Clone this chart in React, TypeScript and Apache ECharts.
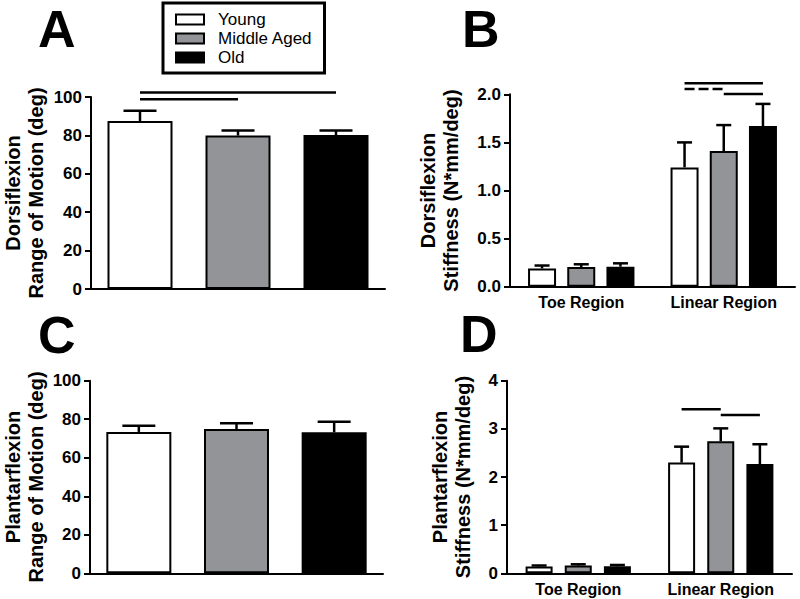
import React, { useEffect, useRef } from 'react';
import * as echarts from 'echarts';

const FONT = '"Liberation Sans", Arial, Helvetica, sans-serif';

const groups = ['Young', 'Middle Aged', 'Old'];
const groupColors = ['#ffffff', '#939497', '#000000'];
const regions = ['Toe Region', 'Linear Region'];
const panelLetters = ['A', 'B', 'C', 'D'];

// Panel A: dorsiflexion range of motion (deg)
const dorsiRomMean = [87.5, 79.9, 80.2];
const dorsiRomSem = [5.4, 2.7, 2.3];
// Panel C: plantarflexion range of motion (deg)
const plantarRomMean = [73.4, 74.9, 73.2];
const plantarRomSem = [3.2, 3.0, 5.5];

// Panel B: dorsiflexion stiffness [Toe, Linear]
const dorsiStiffYoung = [0.19, 1.24];
const dorsiStiffMiddle = [0.205, 1.41];
const dorsiStiffOld = [0.208, 1.67];
const dorsiStiffYoungSem = [0.03, 0.26];
const dorsiStiffMiddleSem = [0.028, 0.27];
const dorsiStiffOldSem = [0.035, 0.23];

// Panel D: plantarflexion stiffness [Toe, Linear]
const plantarStiffYoung = [0.14, 2.3];
const plantarStiffMiddle = [0.16, 2.74];
const plantarStiffOld = [0.145, 2.27];
const plantarStiffYoungSem = [0.022, 0.33];
const plantarStiffMiddleSem = [0.027, 0.27];
const plantarStiffOldSem = [0.028, 0.41];

// Y axis ranges
const romAxis = { min: 0, max: 100, interval: 20 };
const dorsiStiffAxis = { min: 0, max: 2, interval: 0.5 };
const plantarStiffAxis = { min: 0, max: 4, interval: 1 };

// significance bars: [fromCategory, fromGroup, toCategory, toGroup, y, dashed]
const sigA = [
  [0, 0, 1, 1, 98.8, 0],
  [0, 0, 2, 2, 102.4, 0],
];
const sigB = [
  [1, 0, 1, 2, 2.114, 0],
  [1, 0, 1, 1, 2.055, 1],
  [1, 1, 1, 2, 2.003, 0],
];
const sigD = [
  [1, 0, 1, 1, 3.406, 0],
  [1, 1, 1, 2, 3.29, 0],
];

const BAR_B = 28;
const GAP_B = 0.4;
const BAR_D = 27;
const GAP_D = 0.45;
const STEP_B = BAR_B * (1 + GAP_B);
const STEP_D = BAR_D * (1 + GAP_D);

function errorRenderer(step: number, capHalf: number) {
  return (_params: any, api: any) => {
    const c = api.value(0);
    const g = api.value(1);
    const m = api.value(2);
    const e = api.value(3);
    const p0 = api.coord([c, m]);
    const p1 = api.coord([c, m + e]);
    const x = p0[0] + (g - 1) * step;
    return {
      type: 'group',
      children: [
        { type: 'line', shape: { x1: x, y1: p0[1], x2: x, y2: p1[1] }, style: { stroke: '#000', lineWidth: 2.5 } },
        {
          type: 'line',
          shape: { x1: x - capHalf, y1: p1[1], x2: x + capHalf, y2: p1[1] },
          style: { stroke: '#000', lineWidth: 2.5 },
        },
      ],
    };
  };
}

function sigRenderer(step: number) {
  return (_params: any, api: any) => {
    const y = api.value(4);
    const a = api.coord([api.value(0), y]);
    const b = api.coord([api.value(2), y]);
    const x1 = a[0] + (api.value(1) - 1) * step;
    const x2 = b[0] + (api.value(3) - 1) * step;
    const dashed = api.value(5) === 1;
    return {
      type: 'line',
      shape: { x1, y1: a[1], x2, y2: a[1] },
      style: { stroke: '#000', lineWidth: 2.5, lineDash: dashed ? [10, 4] : null },
    };
  };
}

function yAxisOf(grid: number, range: any, name: string, nameGap: number, decimals: number) {
  return {
    type: 'value',
    gridIndex: grid,
    min: range.min,
    max: range.max,
    interval: range.interval,
    name,
    nameLocation: 'middle',
    nameRotate: 90,
    nameGap,
    nameTextStyle: { fontFamily: FONT, fontSize: 20, fontWeight: 'bold', color: '#000', lineHeight: 23 },
    axisLine: { show: true, lineStyle: { color: '#000', width: 2 } },
    axisTick: { show: true, length: 6, lineStyle: { color: '#000', width: 2 } },
    splitLine: { show: false },
    axisLabel: {
      fontFamily: FONT,
      fontSize: 17,
      fontWeight: 'bold',
      color: '#000',
      margin: 9,
      formatter: (v: number) => v.toFixed(decimals),
    },
  };
}

function xAxisOf(grid: number, data: string[], showLabels: boolean) {
  return {
    type: 'category',
    gridIndex: grid,
    data,
    axisLine: { show: true, lineStyle: { color: '#000', width: 2 } },
    axisTick: { show: false },
    axisLabel: {
      show: showLabels,
      fontFamily: FONT,
      fontSize: 16,
      fontWeight: 'bold',
      color: '#000',
      margin: 8,
    },
  };
}

function romSeries(grid: number, means: number[]) {
  return groups.map((g, i) => ({
    name: g,
    type: 'bar',
    xAxisIndex: grid,
    yAxisIndex: grid,
    barWidth: 65,
    barGap: '-100%',
    itemStyle: { color: groupColors[i], borderColor: '#000', borderWidth: 2 },
    data: means.map((v, j) => (j === i ? v : '-')),
  }));
}

function stiffSeries(grid: number, lists: number[][], barWidth: number, gap: number) {
  return groups.map((g, i) => ({
    name: g,
    type: 'bar',
    xAxisIndex: grid,
    yAxisIndex: grid,
    barWidth,
    barGap: `${gap * 100}%`,
    itemStyle: { color: groupColors[i], borderColor: '#000', borderWidth: 2 },
    data: lists[i],
  }));
}

function customSeries(grid: number, data: number[][], renderItem: any, encode: any) {
  return {
    type: 'custom',
    xAxisIndex: grid,
    yAxisIndex: grid,
    clip: false,
    silent: true,
    z: 5,
    encode,
    renderItem,
    data,
  };
}

export default function App() {
  const ref = useRef<HTMLDivElement>(null);

  useEffect(() => {
    if (!ref.current) return;
    const chart = echarts.init(ref.current, null, { renderer: 'svg' });

    const errA = groups.map((_, i) => [i, 1, dorsiRomMean[i], dorsiRomSem[i]]);
    const errC = groups.map((_, i) => [i, 1, plantarRomMean[i], plantarRomSem[i]]);
    const bMeans = [dorsiStiffYoung, dorsiStiffMiddle, dorsiStiffOld];
    const bSems = [dorsiStiffYoungSem, dorsiStiffMiddleSem, dorsiStiffOldSem];
    const dMeans = [plantarStiffYoung, plantarStiffMiddle, plantarStiffOld];
    const dSems = [plantarStiffYoungSem, plantarStiffMiddleSem, plantarStiffOldSem];
    const errB: number[][] = [];
    const errD: number[][] = [];
    groups.forEach((_, g) => {
      regions.forEach((__, r) => {
        errB.push([r, g, bMeans[g][r], bSems[g][r]]);
        errD.push([r, g, dMeans[g][r], dSems[g][r]]);
      });
    });

    const titlePos = [
      { left: 38, top: 3 },
      { left: 462, top: 3 },
      { left: 38, top: 309 },
      { left: 460, top: 308 },
    ];

    chart.setOption({
      animation: false,
      backgroundColor: '#ffffff',
      title: panelLetters.map((t, i) => ({
        text: t,
        left: titlePos[i].left,
        top: titlePos[i].top,
        padding: 0,
        textStyle: { fontFamily: FONT, fontSize: 52, lineHeight: 52, fontWeight: 'bold', color: '#000' },
      })),
      legend: {
        data: groups,
        orient: 'vertical',
        left: 163,
        top: 3,
        padding: [8, 12, 7, 12],
        itemGap: 2,
        itemWidth: 28,
        itemHeight: 10,
        icon: 'rect',
        selectedMode: false,
        borderColor: '#000',
        borderWidth: 3,
        borderRadius: 0,
        itemStyle: { borderColor: '#000', borderWidth: 2 },
        textStyle: { fontFamily: FONT, fontSize: 17, color: '#000', padding: [0, 0, 0, 9] },
      },
      grid: [
        { left: 90, top: 97, width: 295, height: 192 },
        { left: 510, top: 94.3, width: 285, height: 192.4 },
        { left: 89, top: 380.7, width: 294, height: 192.6 },
        { left: 507, top: 380.7, width: 285, height: 192.6 },
      ],
      xAxis: [
        xAxisOf(0, groups, false),
        xAxisOf(1, regions, true),
        xAxisOf(2, groups, false),
        xAxisOf(3, regions, true),
      ],
      yAxis: [
        yAxisOf(0, romAxis, 'Dorsiflexion\nRange of Motion (deg)', 44, 0),
        yAxisOf(1, dorsiStiffAxis, 'Dorsiflexion\nStiffness (N*mm/deg)', 48, 1),
        yAxisOf(2, romAxis, 'Plantarflexion\nRange of Motion (deg)', 43, 0),
        yAxisOf(3, plantarStiffAxis, 'Plantarflexion\nStiffness (N*mm/deg)', 33, 0),
      ],
      series: [
        ...romSeries(0, dorsiRomMean),
        ...stiffSeries(1, bMeans, BAR_B, GAP_B),
        ...romSeries(2, plantarRomMean),
        ...stiffSeries(3, dMeans, BAR_D, GAP_D),
        customSeries(0, errA, errorRenderer(0, 16.5), { x: 0, y: 2 }),
        customSeries(1, errB, errorRenderer(STEP_B, 7.5), { x: 0, y: 2 }),
        customSeries(2, errC, errorRenderer(0, 16.5), { x: 0, y: 2 }),
        customSeries(3, errD, errorRenderer(STEP_D, 7.5), { x: 0, y: 2 }),
        customSeries(0, sigA, sigRenderer(0), { x: [0, 2], y: 4 }),
        customSeries(1, sigB, sigRenderer(STEP_B), { x: [0, 2], y: 4 }),
        customSeries(3, sigD, sigRenderer(STEP_D), { x: [0, 2], y: 4 }),
      ],
    });

    return () => chart.dispose();
  }, []);

  return <div ref={ref} style={{ position: 'fixed', left: 0, top: 0, width: 800, height: 599 }} />;
}
